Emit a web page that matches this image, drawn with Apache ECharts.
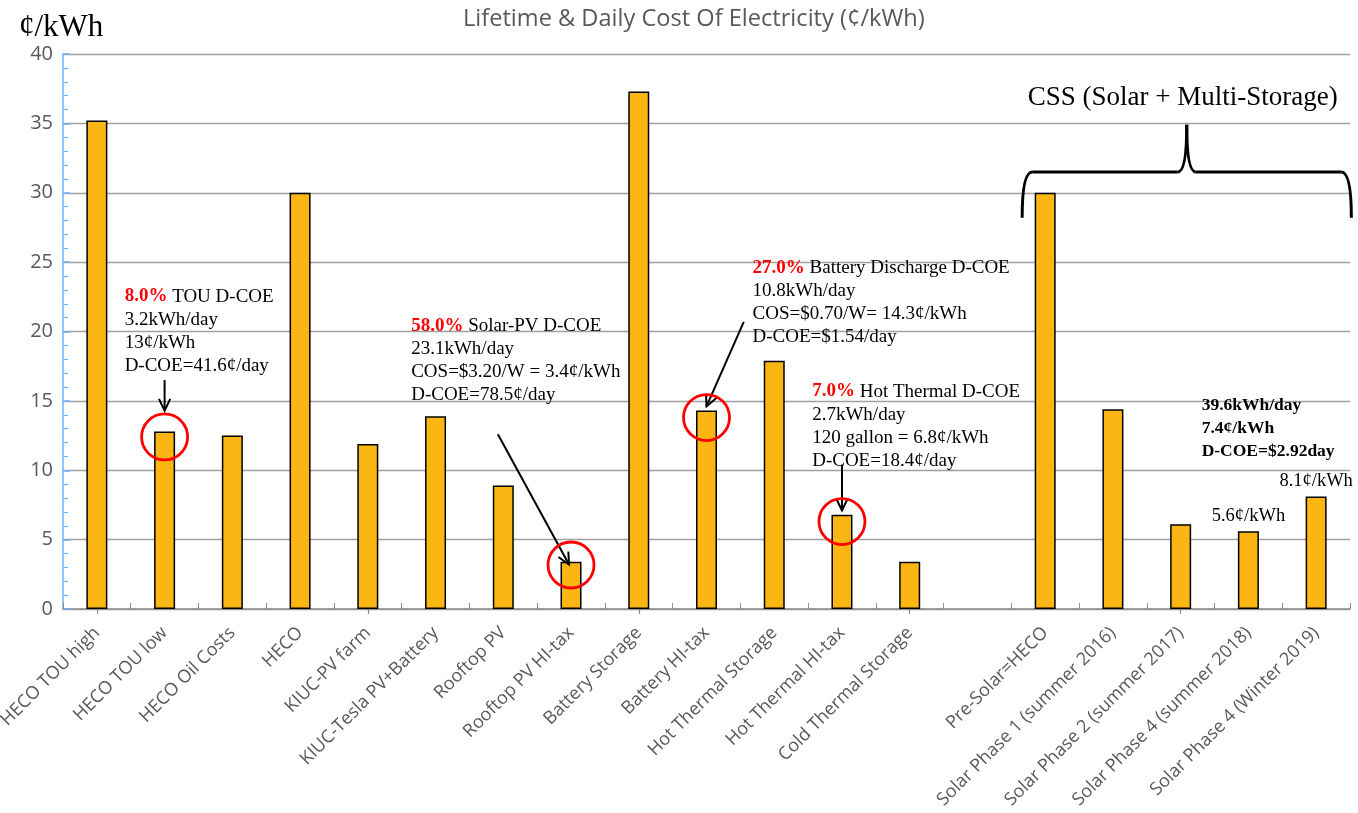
<!DOCTYPE html>
<html>
<head>
<meta charset="utf-8">
<script src="https://cdn.jsdelivr.net/npm/echarts@6/dist/echarts.min.js"></script>
<style>
  html, body { margin: 0; padding: 0; background: #fff; }
  #chart { width: 1358px; height: 813px; }
</style>
</head>
<body>
<div id="chart"></div>
<script>
// categories (the empty one is the gap before the CSS group)
const categories = [
  "HECO TOU high", "HECO TOU low", "HECO Oil Costs", "HECO", "KIUC-PV farm",
  "KIUC-Tesla PV+Battery", "Rooftop PV", "Rooftop PV HI-tax", "Battery Storage",
  "Battery HI-tax", "Hot Thermal Storage", "Hot Thermal HI-tax", "Cold Thermal Storage",
  "", "Pre-Solar=HECO", "Solar Phase 1 (summer 2016)", "Solar Phase 2 (summer 2017)",
  "Solar Phase 4 (summer 2018)", "Solar Phase 4 (Winter 2019)"
];
const costValues = [35.2, 12.8, 12.5, 30.0, 11.9, 13.9, 8.9, 3.4, 37.3, 14.3, 17.9, 6.8, 3.4, null, 30.0, 14.4, 6.1, 5.6, 8.1];
const barNotes = ["", "", "", "", "", "", "", "", "", "", "", "", "", "", "", "", "", "5.6¢/kWh", "8.1¢/kWh"];
const yTicks = [0, 5, 10, 15, 20, 25, 30, 35, 40];

const touNote = ["8.0%", "TOU D-COE", "3.2kWh/day", "13¢/kWh", "D-COE=41.6¢/day"];
const solarNote = ["58.0%", "Solar-PV D-COE", "23.1kWh/day", "COS=$3.20/W = 3.4¢/kWh", "D-COE=78.5¢/day"];
const batteryNote = ["27.0%", "Battery Discharge D-COE", "10.8kWh/day", "COS=$0.70/W= 14.3¢/kWh", "D-COE=$1.54/day"];
const thermalNote = ["7.0%", "Hot Thermal D-COE", "2.7kWh/day", "120 gallon = 6.8¢/kWh", "D-COE=18.4¢/day"];
const cssNote = ["39.6kWh/day", "7.4¢/kWh", "D-COE=$2.92day"];
const cssTitle = "CSS (Solar + Multi-Storage)";

const SERIF = "'Liberation Serif', 'DejaVu Serif', serif";
const SANS = "'Open Sans', 'Noto Sans', sans-serif";

const chart = echarts.init(document.getElementById("chart"), null, { renderer: "canvas" });

const barData = costValues.map((v, i) => {
  const item = { value: v };
  if (barNotes[i]) {
    item.label = {
      show: true,
      position: "top",
      distance: 6,
      formatter: barNotes[i],
      fontFamily: SERIF,
      fontSize: 18.5,
      color: "#000",
    };
  }
  return item;
});

chart.setOption({
  animation: false,
  title: {
    text: "Lifetime & Daily Cost Of Electricity (¢/kWh)",
    left: 458,
    top: 2,
    textStyle: { fontFamily: SANS, fontSize: 23.6, fontWeight: "normal", color: "#595959" },
  },
  grid: { left: 63, right: 8, top: 54, bottom: 204, containLabel: false, outerBoundsMode: "none" },
  xAxis: [
    {
      type: "category",
      data: categories,
      axisLine: { lineStyle: { color: "#8c8c8c", width: 1.5 } },
      axisTick: { show: true, inside: true, length: 6, lineStyle: { color: "#8c8c8c", width: 1 } },
      axisLabel: {
        interval: 0,
        rotate: 45,
        margin: 21,
        fontFamily: SANS,
        fontSize: 18,
        color: "#595959",
      },
      splitLine: { show: false },
    },
    {
      type: "category",
      data: categories,
      position: "bottom",
      axisLine: { show: false },
      axisTick: { show: true, alignWithLabel: true, inside: false, length: 5, lineStyle: { color: "#8c8c8c", width: 1.2 } },
      axisLabel: { show: false },
      splitLine: { show: false },
    },
  ],
  yAxis: {
    type: "value",
    min: yTicks[0],
    max: yTicks[yTicks.length - 1],
    interval: 5,
    axisLine: { show: true, lineStyle: { color: "#6ab4f8", width: 1.5 } },
    axisTick: { show: true, inside: true, length: 7, lineStyle: { color: "#6ab4f8", width: 1.5 } },
    minorTick: { show: true, splitNumber: 5, length: 5, lineStyle: { color: "#6ab4f8", width: 1.2 } },
    axisLabel: { margin: 10, fontFamily: SANS, fontSize: 20, color: "#595959" },
    splitLine: { show: true, lineStyle: { color: "#a0a0a0", width: 1.3 } },
  },
  series: [
    {
      type: "bar",
      data: barData,
      barWidth: 21,
      itemStyle: { color: "#fbb614", borderColor: "#000", borderWidth: 1.5 },
    },
  ],
});

// pixel helper: fractional category index + value -> pixel
function px(i, v) {
  const a = chart.convertToPixel({ xAxisIndex: 0, yAxisIndex: 0 }, [0, v]);
  const b = chart.convertToPixel({ xAxisIndex: 0, yAxisIndex: 0 }, [1, v]);
  return [a[0] + i * (b[0] - a[0]), a[1]];
}

function noteText(note, i, v) {
  const p = px(i, v);
  const text = "{r|" + note[0] + "} {n|" + note[1] + "}\n" +
    note.slice(2).map((s) => "{n|" + s + "}").join("\n");
  return {
    type: "text",
    x: p[0],
    y: p[1],
    z: 10,
    style: {
      text: text,
      fontFamily: SERIF,
      fontSize: 19,
      lineHeight: 23,
      fill: "#000",
      verticalAlign: "top",
      rich: {
        r: { fontFamily: SERIF, fontSize: 19, fontWeight: "bold", fill: "#ff0000", lineHeight: 23 },
        n: { fontFamily: SERIF, fontSize: 19, fill: "#000", lineHeight: 23 },
      },
    },
  };
}

function arrow(i1, v1, i2, v2) {
  const a = px(i1, v1);
  const b = px(i2, v2);
  const ang = Math.atan2(b[1] - a[1], b[0] - a[0]);
  const hl = 13;
  const spread = 0.45;
  const h1 = [b[0] - hl * Math.cos(ang - spread), b[1] - hl * Math.sin(ang - spread)];
  const h2 = [b[0] - hl * Math.cos(ang + spread), b[1] - hl * Math.sin(ang + spread)];
  const st = { stroke: "#000", lineWidth: 2, fill: null };
  return [
    { type: "line", z: 10, shape: { x1: a[0], y1: a[1], x2: b[0], y2: b[1] }, style: st },
    { type: "polyline", z: 10, shape: { points: [h1, b, h2] }, style: st },
  ];
}

function ring(i, v) {
  const p = px(i, v);
  return {
    type: "circle",
    z: 10,
    shape: { cx: p[0], cy: p[1], r: 23 },
    style: { fill: null, stroke: "#ff0000", lineWidth: 2.8 },
  };
}

function brace(iL, iR, vEnd, vTop, vTip) {
  const L = px(iL, vEnd), R = px(iR, vEnd);
  const top = px(iL, vTop)[1];
  const tip = px(iL, vTip)[1];
  const mid = (L[0] + R[0]) / 2;
  const st = { stroke: "#000", lineWidth: 3, fill: null };
  const c = 10;
  return [
    { type: "bezierCurve", z: 10, shape: { x1: L[0], y1: L[1], cpx1: L[0], cpy1: top, x2: L[0] + c, y2: top }, style: st },
    { type: "line", z: 10, shape: { x1: L[0] + c, y1: top, x2: mid - 9, y2: top }, style: st },
    { type: "bezierCurve", z: 10, shape: { x1: mid - 9, y1: top, cpx1: mid, cpy1: top, x2: mid, y2: tip }, style: st },
    { type: "bezierCurve", z: 10, shape: { x1: mid, y1: tip, cpx1: mid, cpy1: top, x2: mid + 9, y2: top }, style: st },
    { type: "line", z: 10, shape: { x1: mid + 9, y1: top, x2: R[0] - c, y2: top }, style: st },
    { type: "bezierCurve", z: 10, shape: { x1: R[0] - c, y1: top, cpx1: R[0], cpy1: top, x2: R[0], y2: R[1] }, style: st },
  ];
}

const cssPos = px(16.03, 36.8);
const boldPos = px(16.31, 15.5);

const elements = [
  {
    type: "text",
    left: 19,
    top: 12,
    style: { text: "¢/kWh", fontFamily: SERIF, fontSize: 31, fill: "#000" },
  },
  noteText(touNote, 0.41, 23.35),
  noteText(solarNote, 4.64, 21.2),
  noteText(batteryNote, 9.68, 25.4),
  noteText(thermalNote, 10.56, 16.5),
  ...arrow(1, 16.5, 1, 14.3),
  ...arrow(5.92, 12.6, 6.97, 3.2),
  ...arrow(9.55, 20.7, 9, 14.6),
  ...arrow(11, 10.4, 11, 7.1),
  ring(1, 12.4),
  ring(7, 3.17),
  ring(9, 13.8),
  ring(11, 6.3),
  ...brace(13.66, 18.52, 28.2, 31.5, 34.9),
  {
    type: "text",
    x: cssPos[0],
    y: cssPos[1],
    z: 10,
    style: { text: cssTitle, fontFamily: SERIF, fontSize: 27, fill: "#000", align: "center", verticalAlign: "middle" },
  },
  {
    type: "text",
    x: boldPos[0],
    y: boldPos[1],
    z: 10,
    style: {
      text: cssNote.join("\n"),
      fontFamily: SERIF,
      fontSize: 17.5,
      fontWeight: "bold",
      lineHeight: 23,
      fill: "#000",
      verticalAlign: "top",
    },
  },
];

chart.setOption({ graphic: { elements: elements } });
</script>
</body>
</html>
